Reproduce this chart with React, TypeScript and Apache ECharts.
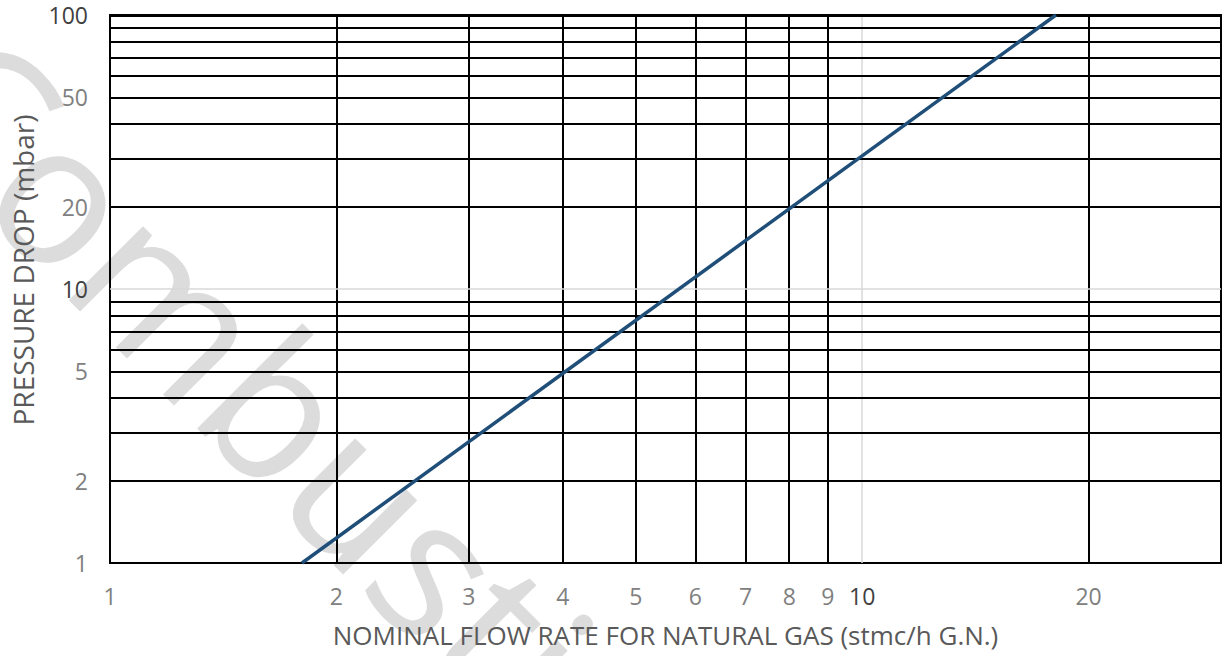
import React, { useEffect, useRef } from "react";
import * as echarts from "echarts";

// Data
const flowRate = [1.8, 18.1]; // stmc/h
const pressureDrop = [1, 100]; // mbar

const xTickLabels = [1, 2, 3, 4, 5, 6, 7, 8, 9, 10, 20];
const xGridValues = [2, 3, 4, 5, 6, 7, 8, 9, 10, 20, 30];
const yTickLabels = [1, 2, 5, 10, 20, 50, 100];
const yGridValues = [2, 3, 4, 5, 6, 7, 8, 9, 10, 20, 30, 40, 50, 60, 70, 80, 90, 100];

const FONT = "Open Sans";
const TICK_SIZE = 23;

export default function App() {
  const ref = useRef<HTMLDivElement>(null);

  useEffect(() => {
    if (!ref.current) return;
    const chart = echarts.init(ref.current, null, { renderer: "svg" });

    const xVals = Array.from(new Set([...xTickLabels, ...xGridValues])).sort((a, b) => a - b);
    const yVals = Array.from(new Set([...yTickLabels, ...yGridValues])).sort((a, b) => a - b);

    const lineColor = (v: number, isGrid: boolean) =>
      !isGrid ? "rgba(0,0,0,0)" : v === 10 ? "#d9d9d9" : "#000000";

    const xMarks = xVals.map((v) => {
      const isGrid = xGridValues.includes(v);
      return {
        xAxis: v,
        lineStyle: { color: lineColor(v, isGrid), width: v === 10 ? 1.5 : 2, type: "solid" },
        label: {
          show: xTickLabels.includes(v),
          formatter: String(v),
          position: "start",
          distance: 21,
          align: "center",
          verticalAlign: "top",
          fontFamily: FONT,
          fontSize: TICK_SIZE,
          color: v === 10 ? "#404040" : "#808080",
        },
      };
    });

    const yMarks = yVals.map((v) => {
      const isGrid = yGridValues.includes(v);
      return {
        yAxis: v,
        lineStyle: { color: lineColor(v, isGrid), width: v === 100 ? 3 : v === 10 ? 1.5 : 2, type: "solid" },
        label: {
          show: yTickLabels.includes(v),
          formatter: String(v),
          position: "start",
          distance: 22,
          align: "right",
          verticalAlign: "middle",
          fontFamily: FONT,
          fontSize: TICK_SIZE,
          color: v === 10 || v === 100 ? "#404040" : "#808080",
        },
      };
    });

    chart.setOption({
      animation: false,
      backgroundColor: "#ffffff",
      grid: {
        left: 110,
        top: 15,
        right: 2,
        bottom: 93,
        show: true,
        borderColor: "#000",
        borderWidth: 2,
      },
      graphic: [
        {
          type: "text",
          x: -60,
          y: 64,
          rotation: -Math.PI / 4,
          z: -10,
          silent: true,
          style: {
            text: "Combustion",
            fontFamily: FONT,
            fontSize: 196,
            fill: "#dcdcdc",
            textAlign: "left",
            textVerticalAlign: "middle",
          },
        },
      ],
      xAxis: {
        type: "log",
        logBase: 10,
        min: 1,
        max: 30,
        name: "NOMINAL FLOW RATE FOR NATURAL GAS (stmc/h G.N.)",
        nameLocation: "middle",
        nameGap: 59,
        nameTextStyle: { fontFamily: FONT, fontSize: 26, color: "#595959" },
        axisLine: { show: true, lineStyle: { color: "#000", width: 2 } },
        axisTick: { show: false },
        axisLabel: { show: false },
        splitLine: { show: false },
      },
      yAxis: {
        type: "log",
        logBase: 10,
        min: 1,
        max: 100,
        name: "PRESSURE DROP (mbar)",
        nameLocation: "middle",
        nameGap: 73,
        nameTextStyle: { fontFamily: FONT, fontSize: 28, color: "#595959", padding: [0, 0, 0, 38] },
        axisLine: { show: true, lineStyle: { color: "#000", width: 2 } },
        axisTick: { show: false },
        axisLabel: { show: false },
        splitLine: { show: false },
      },
      series: [
        {
          type: "line",
          data: [],
          silent: true,
          markLine: {
            silent: true,
            symbol: "none",
            animation: false,
            label: { fontFamily: FONT, fontSize: TICK_SIZE, color: "#808080" },
            data: [...xMarks, ...yMarks],
          },
        },
        {
          type: "line",
          z: 10,
          data: flowRate.map((x, i) => [x, pressureDrop[i]]),
          symbol: "none",
          lineStyle: { color: "#1f4e79", width: 3.5 },
        },
      ],
    });

    return () => chart.dispose();
  }, []);

  return (
    <div
      ref={ref}
      style={{ position: "fixed", left: 0, top: 0, width: 1223, height: 656 }}
    />
  );
}
